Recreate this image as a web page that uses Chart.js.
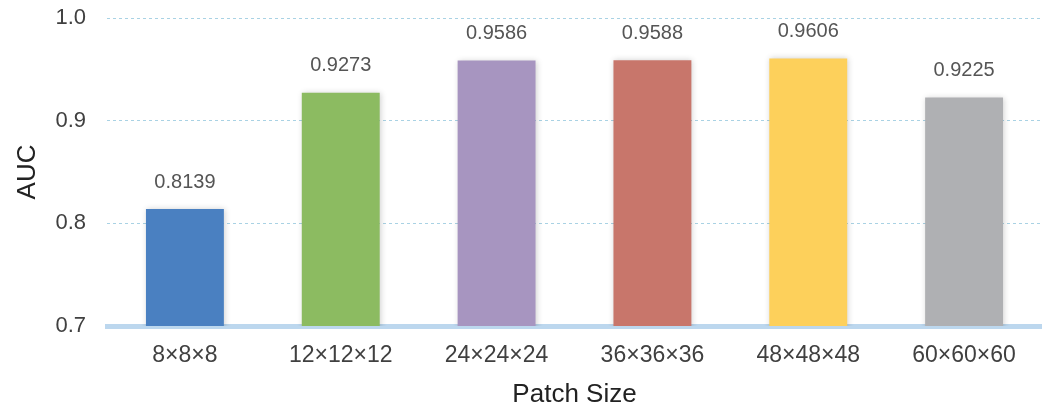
<!DOCTYPE html>
<html>
<head>
<meta charset="utf-8">
<script src="https://cdn.jsdelivr.net/npm/chart.js@4/dist/chart.umd.min.js"></script>
<style>
  html, body { margin: 0; padding: 0; background: #ffffff; }
  #wrap { width: 1042px; height: 412px; position: relative; }
</style>
</head>
<body>
<div id="wrap"><canvas id="c"></canvas></div>
<script>
// Patch sizes on the x axis
const patchSizes = ['8×8×8', '12×12×12', '24×24×24', '36×36×36', '48×48×48', '60×60×60'];
// AUC for each patch size
const aucValues = [0.8139, 0.9273, 0.9586, 0.9588, 0.9606, 0.9225];
// Bar colours, one per patch size
const barColors = ['#4a80c1', '#8cbb61', '#a795c0', '#c8766b', '#fdd05b', '#afb0b3'];
// Y axis ticks
const yTicks = [0.7, 0.8, 0.9, 1.0];

const FONT = '"Liberation Sans", Arial, Helvetica, sans-serif';

// Soft shadow behind the bars
const barShadow = {
  id: 'barShadow',
  beforeDatasetsDraw(chart) {
    const ctx = chart.ctx;
    ctx.save();
    ctx.shadowColor = 'rgba(0,0,0,0.18)';
    ctx.shadowBlur = 6;
    ctx.shadowOffsetX = 1;
    ctx.shadowOffsetY = 0;
  },
  afterDatasetsDraw(chart) {
    chart.ctx.restore();
  }
};

// Value printed above each bar
const valueLabels = {
  id: 'valueLabels',
  afterDatasetsDraw(chart) {
    const ctx = chart.ctx;
    const meta = chart.getDatasetMeta(0);
    const data = chart.data.datasets[0].data;
    ctx.save();
    ctx.font = '20px ' + FONT;
    ctx.fillStyle = '#555555';
    ctx.textAlign = 'center';
    ctx.textBaseline = 'middle';
    meta.data.forEach((bar, i) => {
      ctx.fillText(data[i].toFixed(4), bar.x, bar.y - 27);
    });
    ctx.restore();
  }
};

new Chart(document.getElementById('c'), {
  type: 'bar',
  data: {
    labels: patchSizes,
    datasets: [{
      data: aucValues,
      backgroundColor: barColors,
      borderWidth: 0,
      barPercentage: 0.5,
      categoryPercentage: 1.0
    }]
  },
  options: {
    responsive: true,
    maintainAspectRatio: false,
    animation: false,
    layout: { padding: { top: 18, right: 0, left: 12, bottom: 0 } },
    plugins: {
      legend: { display: false },
      tooltip: { enabled: false }
    },
    scales: {
      x: {
        grid: { display: false },
        border: { display: true, color: '#bcd7ee', width: 5 },
        ticks: {
          color: '#404040',
          font: { family: FONT, size: 23 },
          padding: 8
        },
        title: {
          display: true,
          text: 'Patch Size',
          color: '#222222',
          font: { family: FONT, size: 26 },
          padding: { top: 0, bottom: 2 }
        },
        afterFit(scale) { scale.height = 86; }
      },
      y: {
        min: 0.7,
        max: 1.0,
        afterBuildTicks(scale) {
          scale.ticks = yTicks.map(v => ({ value: v }));
        },
        ticks: {
          color: '#404040',
          font: { family: FONT, size: 22 },
          padding: 0,
          callback: v => Number(v).toFixed(1)
        },
        grid: {
          drawTicks: true,
          tickLength: 21,
          tickColor: 'rgba(0,0,0,0)',
          lineWidth: 1,
          color: ctx => (ctx.tick && Math.abs(ctx.tick.value - 0.7) < 1e-9) ? 'rgba(0,0,0,0)' : '#a9d2e4'
        },
        border: { display: false, dash: [3, 3] },
        title: {
          display: true,
          text: 'AUC',
          color: '#222222',
          font: { family: FONT, size: 26 },
          padding: { top: 0, bottom: 0 }
        },
        afterFit(scale) { scale.width = 95; }
      }
    }
  },
  plugins: [barShadow, valueLabels]
});
</script>
</body>
</html>
